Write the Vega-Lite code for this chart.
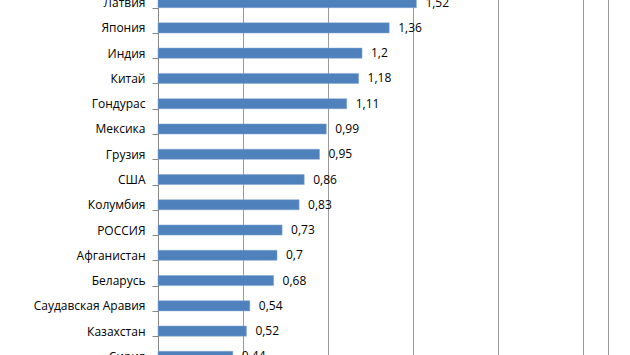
{
  "$schema": "https://vega.github.io/schema/vega-lite/v6.json",
  "autosize": {"type": "none"},
  "width": 450,
  "height": 379,
  "padding": {"left": 158, "top": -10, "right": 22, "bottom": 0},
  "background": "white",
  "config": {
    "view": {"stroke": "#9a9a9a", "strokeWidth": 1},
    "font": "Open Sans"
  },
  "data": {
    "values": [
      {"country": "Латвия", "value": 1.52, "label": "1,52"},
      {"country": "Япония", "value": 1.36, "label": "1,36"},
      {"country": "Индия", "value": 1.2, "label": "1,2"},
      {"country": "Китай", "value": 1.18, "label": "1,18"},
      {"country": "Гондурас", "value": 1.11, "label": "1,11"},
      {"country": "Мексика", "value": 0.99, "label": "0,99"},
      {"country": "Грузия", "value": 0.95, "label": "0,95"},
      {"country": "США", "value": 0.86, "label": "0,86"},
      {"country": "Колумбия", "value": 0.83, "label": "0,83"},
      {"country": "РОССИЯ", "value": 0.73, "label": "0,73"},
      {"country": "Афганистан", "value": 0.7, "label": "0,7"},
      {"country": "Беларусь", "value": 0.68, "label": "0,68"},
      {"country": "Саудавская Аравия", "value": 0.54, "label": "0,54"},
      {"country": "Казахстан", "value": 0.52, "label": "0,52"},
      {"country": "Сирия", "value": 0.44, "label": "0,44"}
    ]
  },
  "encoding": {
    "y": {
      "field": "country",
      "type": "nominal",
      "sort": null,
      "title": null,
      "scale": {"paddingInner": 0.6, "paddingOuter": 0.3},
      "axis": {
        "domainColor": "#868686",
        "tickColor": "#868686",
        "tickSize": 6,
        "tickBand": "extent",
        "labelFont": "Open Sans",
        "labelFontSize": 12,
        "labelColor": "#000000",
        "labelPadding": 7,
        "grid": false
      }
    },
    "x": {
      "field": "value",
      "type": "quantitative",
      "title": null,
      "scale": {"domain": [0, 2.647], "nice": false},
      "axis": {
        "values": [0, 0.5, 1, 1.5, 2, 2.5],
        "grid": true,
        "gridColor": "#9a9a9a",
        "gridWidth": 1,
        "domain": false,
        "ticks": false,
        "labels": false
      }
    }
  },
  "layer": [
    {
      "mark": {"type": "bar", "color": "#4F81BD", "stroke": "#7fa3d1", "strokeWidth": 0.5}
    },
    {
      "mark": {"type": "text", "align": "left", "dx": 9, "fontSize": 12, "font": "Open Sans", "color": "#000000"},
      "encoding": {"text": {"field": "label"}}
    }
  ]
}
